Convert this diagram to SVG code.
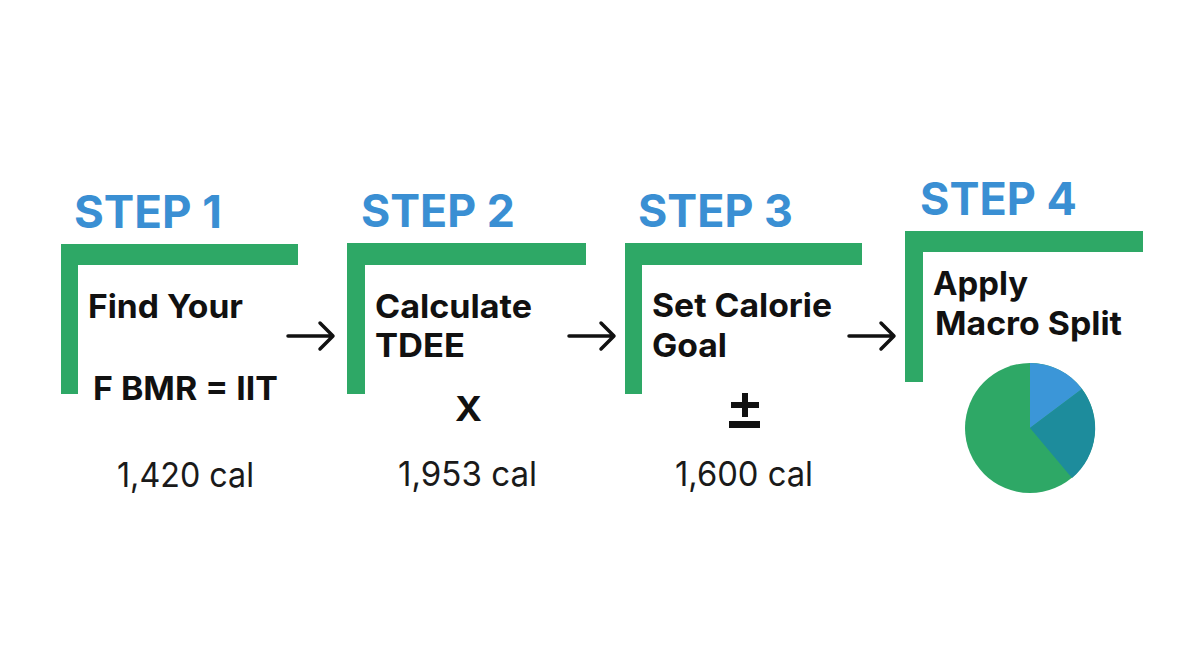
<svg xmlns="http://www.w3.org/2000/svg" width="1204" height="672" viewBox="0 0 1204 672">
<style>
.step{font-family:Inter,"Liberation Sans",Arial,sans-serif;font-weight:bold;font-size:45px;fill:#3a8fd3}
.body{font-family:Inter,"Liberation Sans",Arial,sans-serif;font-weight:bold;font-size:33px;fill:#111}
.cal{font-family:Inter,"Liberation Sans",Arial,sans-serif;font-size:34px;fill:#1a1a1a}
.br{fill:#2ea866}
.arr{fill:none;stroke:#111;stroke-width:3.5;stroke-linecap:round;stroke-linejoin:round}
</style>
<rect width="1204" height="672" fill="#ffffff"/>
<g id="step1">
<text class="step" x="74" y="228" textLength="148" lengthAdjust="spacingAndGlyphs">STEP 1</text>
<path class="br" d="M61 244H298V265H78V394H61Z"/>
<text class="body" x="88" y="318" textLength="155" lengthAdjust="spacingAndGlyphs">Find Your</text>
<text class="body" x="93" y="400" textLength="185" lengthAdjust="spacingAndGlyphs">F BMR = IIT</text>
<text class="cal" x="117" y="487" textLength="137" lengthAdjust="spacingAndGlyphs">1,420 cal</text>
</g>
<g id="step2">
<text class="step" x="361" y="227" textLength="154" lengthAdjust="spacingAndGlyphs">STEP 2</text>
<path class="br" d="M347 243H586V265H365V394H347Z"/>
<text class="body" x="375" y="318" textLength="157" lengthAdjust="spacingAndGlyphs">Calculate</text>
<text class="body" x="375" y="357" textLength="90" lengthAdjust="spacingAndGlyphs">TDEE</text>
<text class="body" x="455" y="421" textLength="27" lengthAdjust="spacingAndGlyphs" style="font-size:34px">X</text>
<text class="cal" x="398" y="486" textLength="139" lengthAdjust="spacingAndGlyphs">1,953 cal</text>
</g>
<g id="step3">
<text class="step" x="638" y="227" textLength="155" lengthAdjust="spacingAndGlyphs">STEP 3</text>
<path class="br" d="M625 243H862V265H642V394H625Z"/>
<text class="body" x="652" y="317" textLength="180" lengthAdjust="spacingAndGlyphs">Set Calorie</text>
<text class="body" x="652" y="357" textLength="75" lengthAdjust="spacingAndGlyphs">Goal</text>
<g fill="#111">
<rect x="742" y="393" width="6" height="24"/>
<rect x="731" y="402" width="28" height="6"/>
<rect x="729" y="421" width="31" height="7"/>
</g>
<text class="cal" x="675" y="486" textLength="138" lengthAdjust="spacingAndGlyphs">1,600 cal</text>
</g>
<g id="step4">
<text class="step" x="920" y="215" textLength="157" lengthAdjust="spacingAndGlyphs">STEP 4</text>
<path class="br" d="M905 231H1143V252H923V382H905Z"/>
<text class="body" x="933" y="295" textLength="95" lengthAdjust="spacingAndGlyphs">Apply</text>
<text class="body" x="935" y="335" textLength="187" lengthAdjust="spacingAndGlyphs">Macro Split</text>
<g id="pie">
<circle cx="1030" cy="428" r="65" fill="#2ea866"/>
<path d="M1030 428L1030 363A65 65 0 0 1 1082 389Z" fill="#3b96d8"/>
<path d="M1030 428L1082 389A65 65 0 0 1 1072 478Z" fill="#1d8c9c"/>
</g>
</g>
<g id="connectors">
<path class="arr" d="M288 336H332M320 323L333 336L320 349"/>
<path class="arr" d="M569 336H613M601 323L614 336L601 349"/>
<path class="arr" d="M849 336H893M881 323L894 336L881 349"/>
</g>
</svg>
